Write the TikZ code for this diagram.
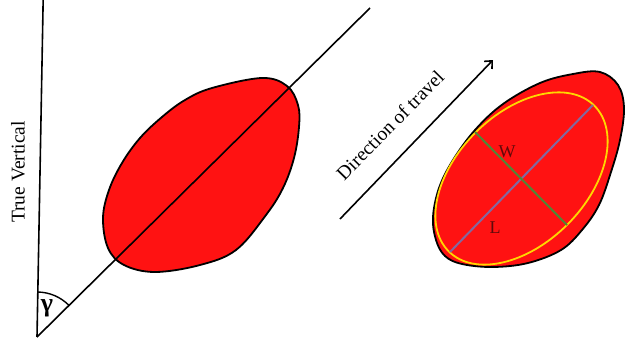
\documentclass[tikz,border=0pt]{standalone}
\usepackage{fontspec}
\setmainfont{Liberation Serif}
\usetikzlibrary{arrows.meta,calc}
\definecolor{blobred}{RGB}{255,18,18}
\definecolor{lyellow}{RGB}{255,215,0}
\definecolor{lpurple}{RGB}{130,105,160}
\definecolor{lgreen}{RGB}{80,135,55}
\definecolor{labdark}{RGB}{95,10,10}
\begin{document}
\begin{tikzpicture}[x=1pt,y=-1pt,
  blobstyle/.style={fill=blobred,draw=black,line width=1.8pt},
  refline/.style={draw=black,line width=1.6pt},
  axlabel/.style={font=\fontsize{19.5}{20}\selectfont,inner sep=0pt},
  inlabel/.style={font=\fontsize{18}{20}\selectfont,text=labdark,inner sep=0pt}]
\useasboundingbox (0,0) rectangle (627,343);
% coordinates
\coordinate (O) at (37,337);
\coordinate (V) at (43.2,-2);
\coordinate (D) at (370,8);
\coordinate (A1) at (340,219);
\coordinate (A2) at (493,60);
\coordinate (C) at (521.5,178.5);
\coordinate (L1) at (450,252);
\coordinate (L2) at (593,105);
\coordinate (W1) at (475,132);
\coordinate (W2) at (567,225);
% left blob
\path[blobstyle] plot[smooth cycle,tension=0.6] coordinates {
 (212,88) (262,78) (287,86) (298,105) (299,127) (294,158) (283,188)
 (266,215) (236,250) (200,265) (155,272) (124,265) (108,248) (103,218)
 (109,190) (122,163) (140,138) (162,117) (185,100)};
% right blob
\path[blobstyle] plot[smooth cycle,tension=0.6] coordinates {
 (600,72) (618,85) (624,108) (620,140) (611,172) (599,205) (582,230)
 (561,250) (528,263) (493,267) (462,264) (445,256) (436,240) (433,217)
 (439,188) (453,160) (475,130) (503,104) (540,83) (573,74)};
\draw[lyellow,line width=1.8pt] (C) ellipse[x radius=103,y radius=65,rotate=45];
\draw[lpurple,line width=2pt] (L1) -- (L2);
\draw[lgreen,line width=2pt] (W1) -- (W2);
\node[inlabel] (wlab) at (507,152) {W};
\node[inlabel] (llab) at (495,228) {L};
% reference lines
\draw[refline] (O) -- (V);
\draw[refline] (O) -- (D);
\draw[line width=1.4pt] ($(O)+(-89:45)$) arc[start angle=-89,end angle=-44.6,radius=45];
\node[font=\bfseries\fontsize{26}{26}\selectfont,inner sep=0pt] (gam) at (47,308) {γ};
\node[axlabel,rotate=90] (tv) at (18,172) {True Vertical};
% direction arrow
\draw[line width=1.6pt,-{Straight Barb[length=6pt,width=11pt]}] (A1) -- (A2);
\node[axlabel,rotate=45.5] (dot) at (390,125) {Direction of travel};
\end{tikzpicture}
\end{document}
